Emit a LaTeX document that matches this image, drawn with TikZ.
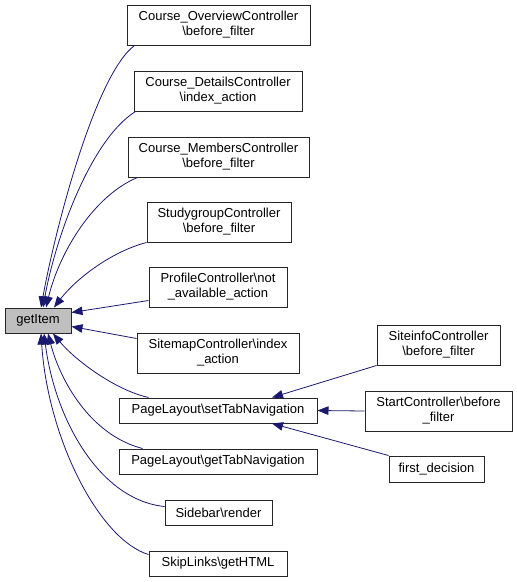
\documentclass[tikz,border=0pt]{standalone}
\usepackage{fontspec}
\setmainfont{Liberation Sans}
\usetikzlibrary{arrows.meta}
\definecolor{navy}{HTML}{191970}
\definecolor{boxgray}{HTML}{BFBFBF}
\begin{document}
\begin{tikzpicture}[x=1pt,y=-1pt,
  fn/.style={draw=black!85, line width=1pt, inner sep=0pt, align=center,
    font=\fontsize{13}{15}\selectfont, minimum height=40pt},
  fn1/.style={fn, minimum height=25pt},
  calls/.style={draw=navy, line width=0.8pt, {Triangle[length=11pt,width=8.5pt]}-}]
\useasboundingbox (0,0) rectangle (517,582);
\fill[white] (0,0) rectangle (517,582);
% nodes
\node[fn1, fill=boxgray, minimum width=66pt] (gi) at (38,320.5) {getItem};
\node[fn, minimum width=183pt] (co) at (218.5,25) {Course\_OverviewController\\\textbackslash before\_filter};
\node[fn, minimum width=168pt] (cd) at (218,91) {Course\_DetailsController\\\textbackslash index\_action};
\node[fn, minimum width=181pt] (cm) at (218.5,157) {Course\_MembersController\\\textbackslash before\_filter};
\node[fn, minimum width=144pt] (sg) at (219,222) {StudygroupController\\\textbackslash before\_filter};
\node[fn, minimum width=138pt] (pc) at (218,287) {ProfileController\textbackslash not\\\_available\_action};
\node[fn, minimum width=162pt] (sm) at (218,353) {SitemapController\textbackslash index\\\_action};
\node[fn1, minimum width=198pt] (st) at (218,410.5) {PageLayout\textbackslash setTabNavigation};
\node[fn1, minimum width=198pt] (gt) at (218,461.5) {PageLayout\textbackslash getTabNavigation};
\node[fn1, minimum width=107pt] (sb) at (218.5,512.5) {Sidebar\textbackslash render};
\node[fn1, minimum width=138pt] (sk) at (218,563.5) {SkipLinks\textbackslash getHTML};
\node[fn, minimum width=123pt] (si) at (438.5,345) {SiteinfoController\\\textbackslash before\_filter};
\node[fn, minimum width=147pt] (sc) at (438.5,411) {StartController\textbackslash before\\\_filter};
\node[fn1, minimum width=95pt, minimum height=26pt] (fd) at (436.5,469) {first\_decision};
% edges into getItem
\draw[calls] ([xshift=3pt]gi.north) .. controls (55,230) and (95,75) .. ([xshift=8pt]co.south west);
\draw[calls] ([xshift=5pt]gi.north) .. controls (55,240) and (90,140) .. ([xshift=2pt]cd.south west);
\draw[calls] ([xshift=8pt]gi.north) .. controls (60,250) and (95,195) .. ([xshift=10pt]cm.south west);
\draw[calls] ([xshift=16pt]gi.north) .. controls (75,280) and (110,252) .. (sg.south west);
\draw[calls] ([yshift=8pt]gi.east) -- ([yshift=7pt]pc.south west);
\draw[calls] ([yshift=-6pt]gi.east) -- ([yshift=-6pt]sm.north west);
\draw[calls] ([xshift=15pt]gi.south) .. controls (75,360) and (115,390) .. ([xshift=30pt]st.north west);
\draw[calls] ([xshift=10pt]gi.south) .. controls (60,380) and (90,435) .. ([xshift=24pt]gt.north west);
\draw[calls] ([xshift=6pt]gi.south) .. controls (55,420) and (100,500) .. ([yshift=-7pt]sb.north west);
\draw[calls] ([xshift=3pt]gi.south) .. controls (48,440) and (100,540) .. ([yshift=-4pt]sk.north west);
% edges into setTabNavigation
\draw[calls] ([xshift=54pt]st.north) -- (si.south west);
\draw[calls] (st.east) -- (sc.west);
\draw[calls] ([xshift=54pt]st.south) -- (fd.north west);
\end{tikzpicture}
\end{document}
